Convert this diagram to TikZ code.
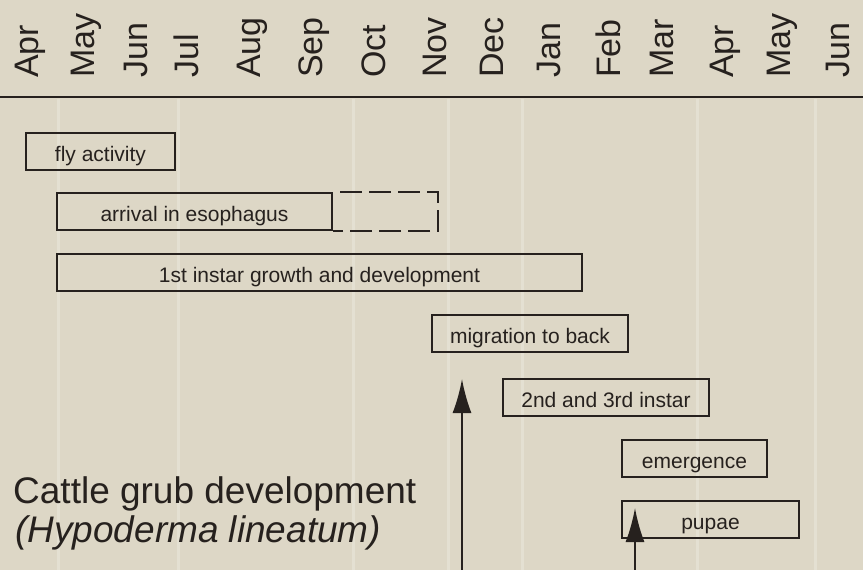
\documentclass[tikz,border=0pt]{standalone}
\usepackage{fontspec}
\setmainfont{Liberation Sans}
\usetikzlibrary{arrows.meta}
\definecolor{paper}{RGB}{221,215,198}
\definecolor{ink}{RGB}{38,33,30}
\definecolor{stripe}{RGB}{228,224,210}
\begin{document}
\begin{tikzpicture}[x=1pt,y=-1pt,
  box/.style={draw=ink, line width=2pt, inner sep=0pt, text height=19pt, text depth=0pt, font=\fontsize{21}{24}\selectfont, text=ink},
  month/.style={rotate=90, anchor=base west, inner sep=0pt, font=\fontsize{34}{40}\selectfont, text=ink},
  title/.style={anchor=base west, inner sep=0pt, font=\fontsize{37}{42}\selectfont, text=ink},
  arr/.style={draw=ink, line width=2pt, -{Latex[length=34pt,width=19pt]}},
  ext/.style={draw=ink, line width=2pt, dash pattern=on 22pt off 7pt, dash phase=22pt},
  stripeline/.style={draw=stripe, line width=3pt}]
\fill[paper] (0,0) rectangle (863,570);
\useasboundingbox (0,0) rectangle (863,570);
% faint paper stripes
\foreach \sx in {58,178,353,448,522,697,815}
  \draw[stripeline] (\sx,99) -- (\sx,570);
% month labels
\foreach \bx/\mn [count=\i] in {38/Apr,94/May,147/Jun,198/Jul,260/Aug,322/Sep,385/Oct,446/Nov,503/Dec,560/Jan,620/Feb,673/Mar,733/Apr,790/May,849/Jun}
  \node[month] (m\i) at (\bx,78) {\mn};
% rule
\draw[ink, line width=2.5pt] (0,97) -- (863,97);
% boxes
\node[box, minimum width=149pt, minimum height=37pt] (fly) at (100.5,151.5) {fly activity};
\node[box, minimum width=275pt, minimum height=37pt] (arrival) at (194.5,211.5) {arrival in esophagus};
\node[box, minimum width=525pt, minimum height=37pt] (first) at (319.5,272.5) {1st instar growth and development};
\node[box, minimum width=196pt, minimum height=37pt] (migr) at (530,333.5) {migration to back};
\node[box, minimum width=206pt, minimum height=37pt] (second) at (606,397.5) {2nd and 3rd instar};
\node[box, minimum width=145pt, minimum height=37pt] (emerg) at (694.5,458.5) {emergence};
\node[box, minimum width=177pt, minimum height=37pt] (pupae) at (710.5,519.5) {pupae};
% dashed extension of arrival
\draw[ext] (arrival.north east) -- ++(105,0) |- (arrival.south east);
% arrows
\coordinate (a1s) at (462,572);
\coordinate (a1e) at (462,379);
\coordinate (a2s) at (635,572);
\coordinate (a2e) at (635,508);
\draw[arr] (a1s) -- (a1e);
\draw[arr] (a2s) -- (a2e);
% title
\node[title] (t1) at (13,503) {Cattle grub development};
\node[title, font=\fontsize{37}{42}\selectfont\itshape] (t2) at (15,542) {(Hypoderma lineatum)};
\end{tikzpicture}
\end{document}
